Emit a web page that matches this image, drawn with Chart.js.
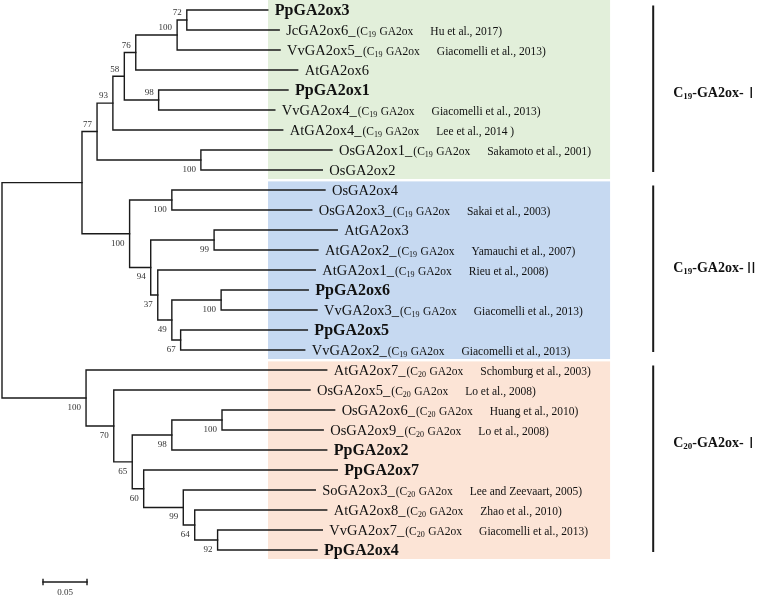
<!DOCTYPE html>
<html lang="en">
<head>
<meta charset="UTF-8">
<title>GA2ox tree</title>
<script src="https://cdn.jsdelivr.net/npm/chart.js@4.4.0/dist/chart.umd.min.js"></script>
<style>
  body { margin: 0; background: #fff; }
</style>
</head>
<body>
<canvas id="tree" width="758" height="599"></canvas>
<script>
// leaves, top to bottom
const leafNames = ['PpGA2ox3','JcGA2ox6','VvGA2ox5','AtGA2ox6','PpGA2ox1','VvGA2ox4','AtGA2ox4','OsGA2ox1','OsGA2ox2',
                   'OsGA2ox4','OsGA2ox3','AtGA2ox3','AtGA2ox2','AtGA2ox1','PpGA2ox6','VvGA2ox3','PpGA2ox5','VvGA2ox2',
                   'AtGA2ox7','OsGA2ox5','OsGA2ox6','OsGA2ox9','PpGA2ox2','PpGA2ox7','SoGA2ox3','AtGA2ox8','VvGA2ox7','PpGA2ox4'];
// distance from root to each tip
const leafDepth = [0.302,0.315,0.316,0.336,0.325,0.310,0.319,0.375,0.364,
                   0.367,0.352,0.381,0.359,0.356,0.348,0.358,0.347,0.344,
                   0.369,0.350,0.378,0.365,0.369,0.381,0.356,0.369,0.364,0.358];
const leafClass = ['','C19','C19','','','C19','C19','C19','',
                   '','C19','','C19','C19','','C19','','C19',
                   'C20','C20','C20','C20','','','C20','C20','C20',''];
const leafRef = ['','Hu et al., 2017)','Giacomelli et al., 2013)','','','Giacomelli et al., 2013)','Lee et al., 2014 )','Sakamoto et al., 2001)','',
                 '','Sakai et al., 2003)','','Yamauchi et al., 2007)','Rieu et al., 2008)','','Giacomelli et al., 2013)','','Giacomelli et al., 2013)',
                 'Schomburg et al., 2003)','Lo et al., 2008)','Huang et al., 2010)','Lo et al., 2008)','','','Lee and Zeevaart, 2005)','Zhao et al., 2010)','Giacomelli et al., 2013)',''];

// internal nodes (post order)
const nodeNames = ['n1','n2','n3','n4','n5','n6','n7','n8','n9','n10','n11','n12','n13','n14','n15','n16','n17',
                   'n18','n19','n20','n21','n22','n23','n24','n25','n26','root'];
const nodeDepth = [0.210,0.199,0.152,0.178,0.139,0.126,0.226,0.108,0.193,0.241,0.249,0.203,0.193,0.177,0.169,0.145,0.0909,
                   0.250,0.193,0.245,0.219,0.206,0.161,0.148,0.127,0.0955,0];
const nodeKids = [['PpGA2ox3','JcGA2ox6'],['n1','VvGA2ox5'],['n2','AtGA2ox6'],['PpGA2ox1','VvGA2ox4'],['n3','n4'],
                  ['n5','AtGA2ox4'],['OsGA2ox1','OsGA2ox2'],['n6','n7'],['OsGA2ox4','OsGA2ox3'],['AtGA2ox3','AtGA2ox2'],
                  ['PpGA2ox6','VvGA2ox3'],['PpGA2ox5','VvGA2ox2'],['n11','n12'],['AtGA2ox1','n13'],['n10','n14'],
                  ['n9','n15'],['n8','n16'],['OsGA2ox6','OsGA2ox9'],['n18','PpGA2ox2'],['VvGA2ox7','PpGA2ox4'],
                  ['AtGA2ox8','n20'],['SoGA2ox3','n21'],['PpGA2ox7','n22'],['n19','n23'],['OsGA2ox5','n24'],
                  ['AtGA2ox7','n25'],['n17','n26']];
const bootstrap = [72,100,76,98,58,93,100,77,100,99,100,67,49,37,94,100,null,
                   100,98,92,64,99,60,65,70,100,null];
const bsAbove = [1,1,1,1,1,1,0,1,0,0,0,0,0,0,0,0,0, 0,0,0,0,0,0,0,0,0,0];

// clades
const cladeFirst = [0, 9, 18];
const cladeLast = [8, 17, 27];
const cladeSub = ['19', '19', '20'];
const cladeRoman = ['\u2160', '\u2161', '\u2160'];
const cladeFill = ['#e2efda', '#c6d9f1', '#fce4d6'];

const scaleBarLen = 0.05;

// positions
const X = {}, Y = {};
leafNames.forEach((n, i) => { X[n] = leafDepth[i]; Y[n] = i; });
nodeNames.forEach((n, i) => {
    X[n] = nodeDepth[i];
    Y[n] = (Y[nodeKids[i][0]] + Y[nodeKids[i][1]]) / 2;
});

const datasets = [];
const lineStyle = { showLine: true, borderColor: '#1a1a1a', borderWidth: 1.4, pointRadius: 0, borderCapStyle: 'square', borderJoinStyle: 'miter' };
nodeNames.forEach((n, i) => {
    const a = nodeKids[i][0], b = nodeKids[i][1];
    datasets.push(Object.assign({
        data: [{x: X[a], y: Y[a]}, {x: X[n], y: Y[a]}, {x: X[n], y: Y[b]}, {x: X[b], y: Y[b]}]
    }, lineStyle));
});
// scale bar
const sbX = 0.0466, sbY = 28.6;
datasets.push(Object.assign({ data: [{x: sbX, y: sbY - 0.13}, {x: sbX, y: sbY + 0.13}] }, lineStyle));
datasets.push(Object.assign({ data: [{x: sbX, y: sbY}, {x: sbX + scaleBarLen, y: sbY}] }, lineStyle));
datasets.push(Object.assign({ data: [{x: sbX + scaleBarLen, y: sbY - 0.13}, {x: sbX + scaleBarLen, y: sbY + 0.13}] }, lineStyle));
// clade bars
const barX = 0.74;
cladeFirst.forEach((f, i) => {
    datasets.push(Object.assign({}, lineStyle, {
        borderWidth: 2, borderCapStyle: 'butt',
        data: [{x: barX, y: f - 0.22}, {x: barX, y: cladeLast[i] + 0.1}]
    }));
});

function drawRuns(ctx, x, y, runs) {
    runs.forEach(r => {
        ctx.font = r.font;
        ctx.fillText(r.t, x, y + (r.dy || 0));
        x += ctx.measureText(r.t).width + (r.after || 0);
    });
    return x;
}

const SERIF = "'Liberation Serif', 'Times New Roman', serif";
// row where each clade label sits
const cladeLabelRow = [4.1, 12.85, 21.6];

const treeDecor = {
    id: 'treeDecor',
    beforeDatasetsDraw(chart) {
        const ctx = chart.ctx, xs = chart.scales.x, ys = chart.scales.y;
        ctx.save();
        const x0 = xs.getPixelForValue(0.3023), x1 = xs.getPixelForValue(0.691);
        cladeFirst.forEach((f, i) => {
            const top = i === 0 ? ys.getPixelForValue(-0.5) : ys.getPixelForValue(f - 0.43);
            const bot = ys.getPixelForValue(cladeLast[i] + 0.45);
            ctx.fillStyle = cladeFill[i];
            ctx.fillRect(x0, top, x1 - x0, bot - top);
        });
        ctx.restore();
    },
    afterDatasetsDraw(chart) {
        const ctx = chart.ctx, xs = chart.scales.x, ys = chart.scales.y;
        ctx.save();
        ctx.fillStyle = '#111';
        ctx.textBaseline = 'alphabetic';
        ctx.textAlign = 'left';
        const small = '11.5px ' + SERIF;
        // leaf labels
        leafNames.forEach((n, i) => {
            const px = xs.getPixelForValue(leafDepth[i]) + 7;
            const py = ys.getPixelForValue(i) + 5;
            const bold = n.startsWith('Pp');
            const big = bold ? 'bold 16px ' + SERIF : '14.5px ' + SERIF;
            const runs = [{t: n, font: big}];
            if (leafRef[i]) {
                runs.push({t: '_', font: big, after: 1});
                runs.push({t: '(C', font: small});
                runs.push({t: leafClass[i].slice(1), font: '8px ' + SERIF, dy: 1.5, after: 3.5});
                runs.push({t: 'GA2ox', font: small, after: 17});
                runs.push({t: leafRef[i], font: small});
            }
            drawRuns(ctx, px, py, runs);
        });
        // bootstrap values
        ctx.font = '9px ' + SERIF;
        ctx.fillStyle = '#333';
        ctx.textAlign = 'right';
        ctx.textBaseline = 'middle';
        nodeNames.forEach((n, i) => {
            if (bootstrap[i] == null) return;
            const px = xs.getPixelForValue(nodeDepth[i]) - 5;
            const py = ys.getPixelForValue(Y[n]) + (bsAbove[i] ? -7 : 9.5);
            ctx.fillText(String(bootstrap[i]), px, py);
        });
        // scale bar label
        ctx.textAlign = 'center';
        ctx.fillText(String(scaleBarLen), xs.getPixelForValue(sbX + scaleBarLen / 2), ys.getPixelForValue(sbY + 0.55));
        // clade labels
        ctx.fillStyle = '#111';
        ctx.textAlign = 'left';
        ctx.textBaseline = 'alphabetic';
        cladeFirst.forEach((f, i) => {
            const px = xs.getPixelForValue(barX) + 20;
            const py = ys.getPixelForValue(cladeLabelRow[i]) + 5;
            drawRuns(ctx, px, py, [
                {t: 'C', font: 'bold 14px ' + SERIF},
                {t: cladeSub[i], font: 'bold 9px ' + SERIF, dy: 2},
                {t: '-GA2ox-', font: 'bold 14px ' + SERIF},
                {t: cladeRoman[i], font: "15px 'Noto Sans CJK SC', 'DejaVu Serif', serif", dy: 0.5}
            ]);
        });
        ctx.restore();
    }
};

const chart = new Chart(document.getElementById('tree'), {
    type: 'scatter',
    data: { datasets: datasets },
    options: {
        responsive: false,
        animation: false,
        layout: { padding: 0 },
        plugins: { legend: { display: false }, tooltip: { enabled: false } },
        scales: {
            x: { type: 'linear', display: false, min: -2 / 880, max: 756 / 880 },
            y: { type: 'linear', display: false, reverse: true, min: -0.5, max: 29.45 }
        }
    },
    plugins: [treeDecor]
});
</script>
</body>
</html>
